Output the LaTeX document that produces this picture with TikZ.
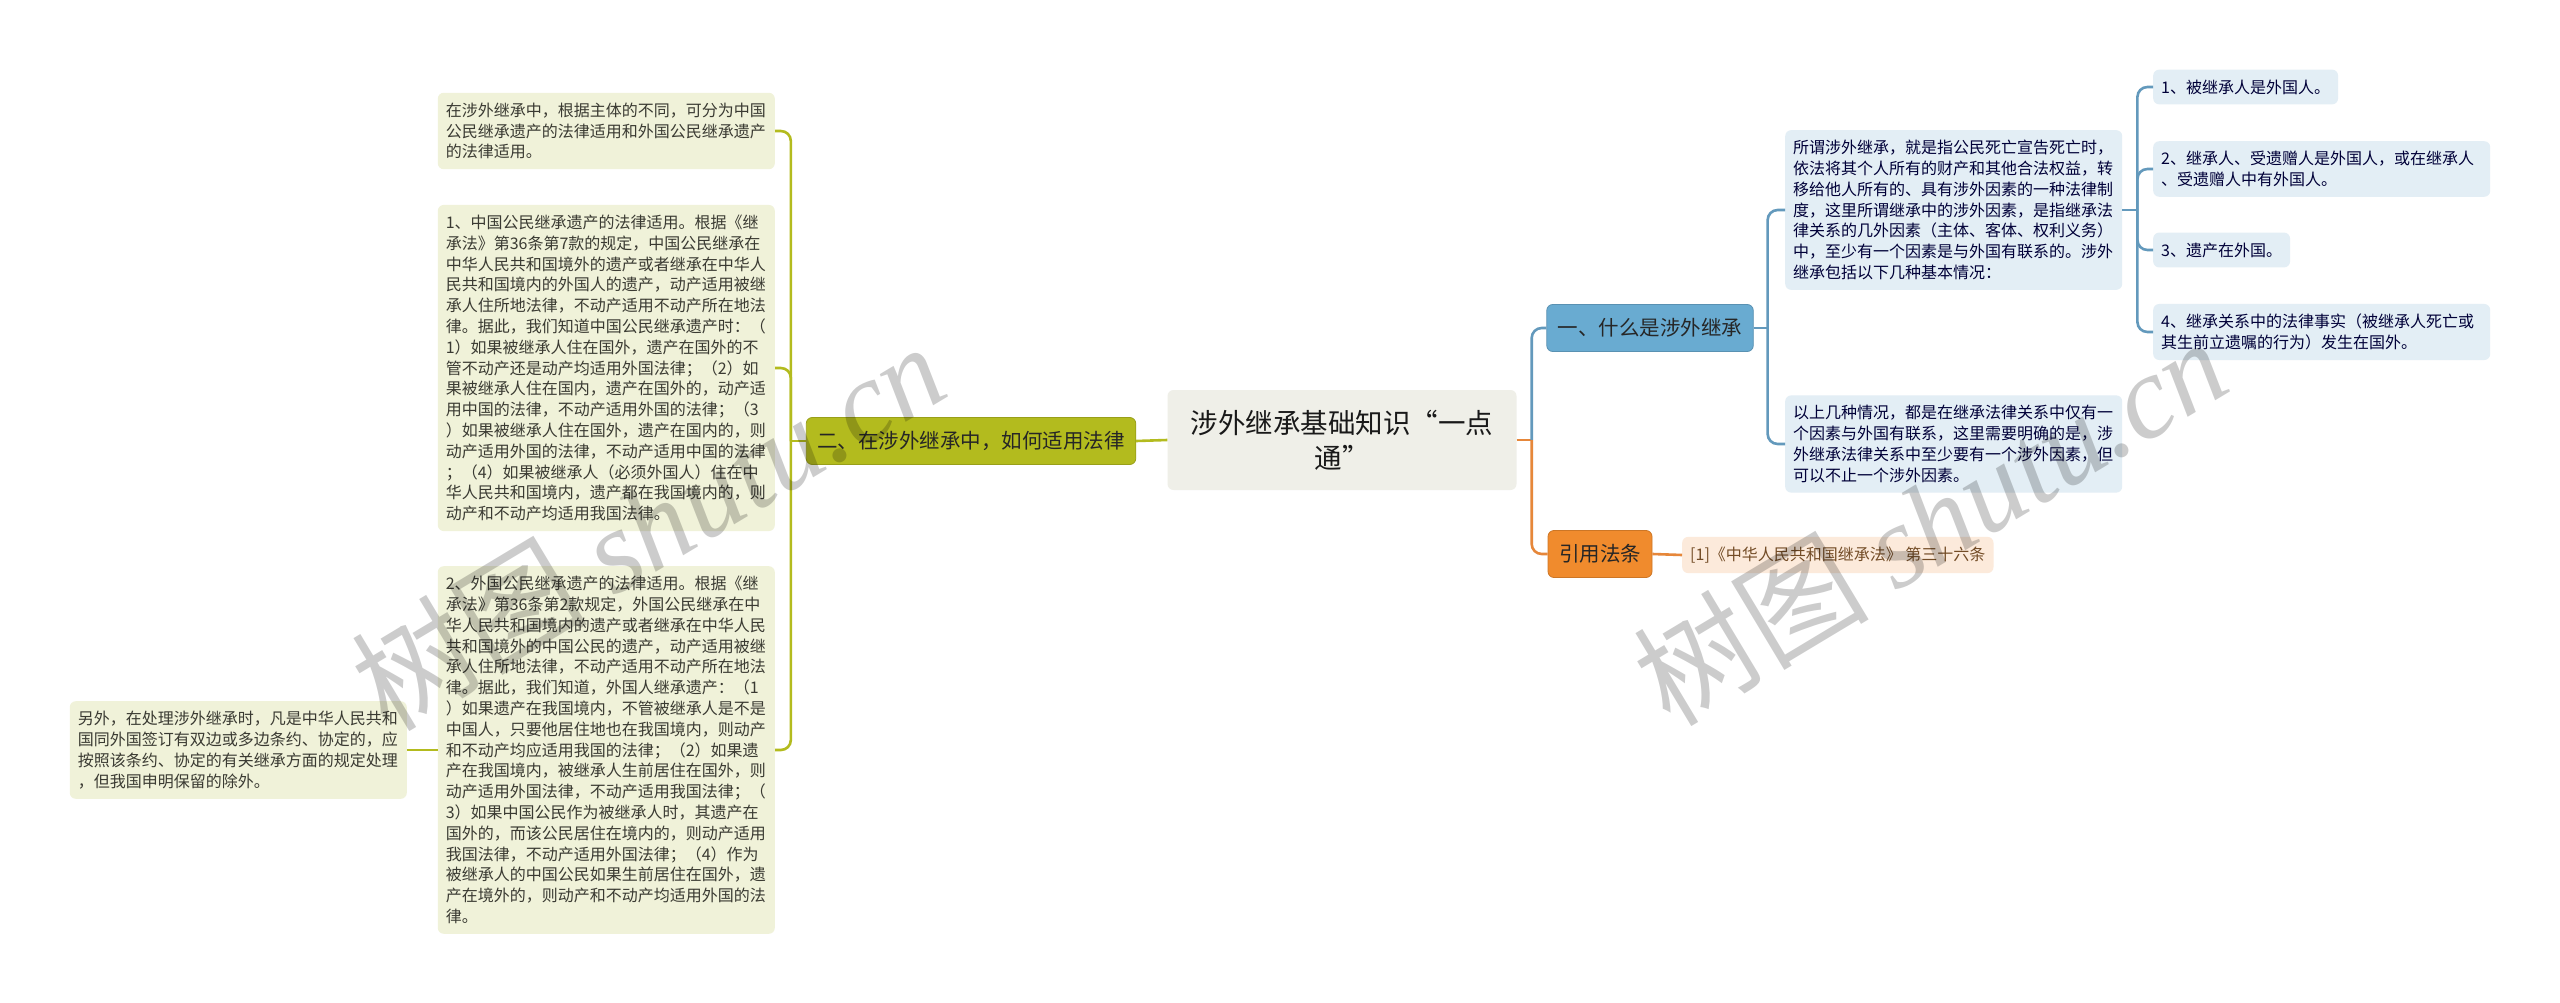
\documentclass[tikz,border=0pt]{standalone}
\usepackage{fontspec}
\setmainfont{Noto Sans CJK SC}
\newfontfamily\wmfont{Liberation Serif}
\definecolor{olivedark}{HTML}{B3BB1E}
\definecolor{olivepale}{HTML}{F0F2D9}
\definecolor{bluedark}{HTML}{69ABD1}
\definecolor{blueline}{HTML}{6399BC}
\definecolor{bluepale}{HTML}{E3EEF5}
\definecolor{orangedark}{HTML}{F08B2D}
\definecolor{orangeline}{HTML}{E6873A}
\definecolor{orangepale}{HTML}{FCEADB}
\definecolor{rootgray}{HTML}{EFEFE8}
\definecolor{leaftext}{HTML}{3A3A32}
\tikzset{>=stealth,
  box/.style={rounded corners=6pt, inner xsep=8pt, inner ysep=10pt, align=left,
    font=\fontsize{16}{20.8}\selectfont},
  oleaf/.style={box, fill=olivepale, text=leaftext, text width=321pt},
  bleaf/.style={box, fill=bluepale, text=black!78!blue},
  branch/.style={rounded corners=6pt, inner xsep=11pt, minimum height=47pt,
    font=\fontsize{20.5}{24}\selectfont, text=black!85},
  link/.style={line width=2.6pt, rounded corners=10pt},
  wm/.style={text=black, text opacity=0.2, font=\fontsize{118}{120}\selectfont}
}

\begin{document}
\begin{tikzpicture}[x=1pt,y=-1pt]
\useasboundingbox[fill=white] (0,0) rectangle (2560,1003);
\node[rounded corners=6pt, fill=rootgray, text width=325pt, minimum width=349pt,
  minimum height=100pt, align=center, font=\fontsize{27.5}{35}\selectfont,
  text=black!90] (root) at (1342,440) {涉外继承基础知识“一点\\通”};

\node[branch, fill=olivedark, draw=olivedark!85!black, line width=0.8pt] (two) at (971,441) {二、在涉外继承中，如何适用法律};
\node[oleaf, anchor=east] (la) at (775,131) {在涉外继承中，根据主体的不同，可分为中国\\
公民继承遗产的法律适用和外国公民继承遗产\\
的法律适用。};
\node[oleaf, anchor=east] (lb) at (775,368) {1、中国公民继承遗产的法律适用。根据《继\\
承法》第36条第7款的规定，中国公民继承在\\
中华人民共和国境外的遗产或者继承在中华人\\
民共和国境内的外国人的遗产，动产适用被继\\
承人住所地法律，不动产适用不动产所在地法\\
律。据此，我们知道中国公民继承遗产时：（\\
1）如果被继承人住在国外，遗产在国外的不\\
管不动产还是动产均适用外国法律；（2）如\\
果被继承人住在国内，遗产在国外的，动产适\\
用中国的法律，不动产适用外国的法律；（3\\
）如果被继承人住在国外，遗产在国内的，则\\
动产适用外国的法律，不动产适用中国的法律\\
；（4）如果被继承人（必须外国人）住在中\\
华人民共和国境内，遗产都在我国境内的，则\\
动产和不动产均适用我国法律。};
\node[oleaf, anchor=east] (lc) at (775,750) {2、外国公民继承遗产的法律适用。根据《继\\
承法》第36条第2款规定，外国公民继承在中\\
华人民共和国境内的遗产或者继承在中华人民\\
共和国境外的中国公民的遗产，动产适用被继\\
承人住所地法律，不动产适用不动产所在地法\\
律。据此，我们知道，外国人继承遗产：（1\\
）如果遗产在我国境内，不管被继承人是不是\\
中国人，只要他居住地也在我国境内，则动产\\
和不动产均应适用我国的法律；（2）如果遗\\
产在我国境内，被继承人生前居住在国外，则\\
动产适用外国法律，不动产适用我国法律；（\\
3）如果中国公民作为被继承人时，其遗产在\\
国外的，而该公民居住在境内的，则动产适用\\
我国法律，不动产适用外国法律；（4）作为\\
被继承人的中国公民如果生前居住在国外，遗\\
产在境外的，则动产和不动产均适用外国的法\\
律。};
\node[oleaf, anchor=east] (ld) at (407,750) {另外，在处理涉外继承时，凡是中华人民共和\\
国同外国签订有双边或多边条约、协定的，应\\
按照该条约、协定的有关继承方面的规定处理\\
，但我国申明保留的除外。};

\node[branch, fill=bluedark, draw=bluedark!85!black, line width=0.8pt] (one) at (1650,328) {一、什么是涉外继承};
\node[bleaf, text width=321pt, anchor=west] (b1) at (1785,210) {所谓涉外继承，就是指公民死亡宣告死亡时，\\
依法将其个人所有的财产和其他合法权益，转\\
移给他人所有的、具有涉外因素的一种法律制\\
度，这里所谓继承中的涉外因素，是指继承法\\
律关系的几外因素（主体、客体、权利义务）\\
中，至少有一个因素是与外国有联系的。涉外\\
继承包括以下几种基本情况：};
\node[bleaf, text width=321pt, anchor=west] (b2) at (1785,444) {以上几种情况，都是在继承法律关系中仅有一\\
个因素与外国有联系，这里需要明确的是，涉\\
外继承法律关系中至少要有一个涉外因素，但\\
可以不止一个涉外因素。};
\node[bleaf, anchor=west] (i1) at (2153,87) {1、被继承人是外国人。};
\node[bleaf, text width=321pt, anchor=west] (i2) at (2153,169) {2、继承人、受遗赠人是外国人，或在继承人\\
、受遗赠人中有外国人。};
\node[bleaf, anchor=west] (i3) at (2153,250) {3、遗产在外国。};
\node[bleaf, text width=321pt, anchor=west] (i4) at (2153,332) {4、继承关系中的法律事实（被继承人死亡或\\
其生前立遗嘱的行为）发生在国外。};

\node[branch, fill=orangedark, draw=orangedark!85!black, line width=0.8pt] (cite) at (1600,554) {引用法条};
\node[box, fill=orangepale, text=brown!60!black, anchor=west] (ref) at (1682,555) {[1]《中华人民共和国继承法》 第三十六条};

\draw[link, olivedark] (root.west) -- (two.east);
\draw[link, olivedark] (two.west) -- ++(-15,0) coordinate (ot);
\foreach \n in {la,lb,lc} \draw[link, olivedark] (ot) |- (\n.east);
\draw[link, olivedark] (lc.west) -- (ld.east);

\draw[link, orangeline] (root.east) -- ++(15,0) coordinate (rt);
\draw[link, blueline] (rt) |- (one.west);
\draw[link, orangeline] (rt) |- (cite.west);
\draw[link, orangeline] (cite.east) -- (ref.west);

\draw[link, blueline] (one.east) -- ++(14,0) coordinate (bt);
\foreach \n in {b1,b2} \draw[link, blueline] (bt) |- (\n.west);
\draw[link, blueline] (b1.east) -- ++(15,0) coordinate (it);
\foreach \n in {i1,i2,i3,i4} \draw[link, blueline] (it) |- (\n.west);

\node[wm, rotate=31] (wml) at (648,525) {树图 {\wmfont\itshape shutu.cn}};
\node[wm, rotate=31] (wmr) at (1930,520) {树图 {\wmfont\itshape shutu.cn}};
\end{tikzpicture}
\end{document}
